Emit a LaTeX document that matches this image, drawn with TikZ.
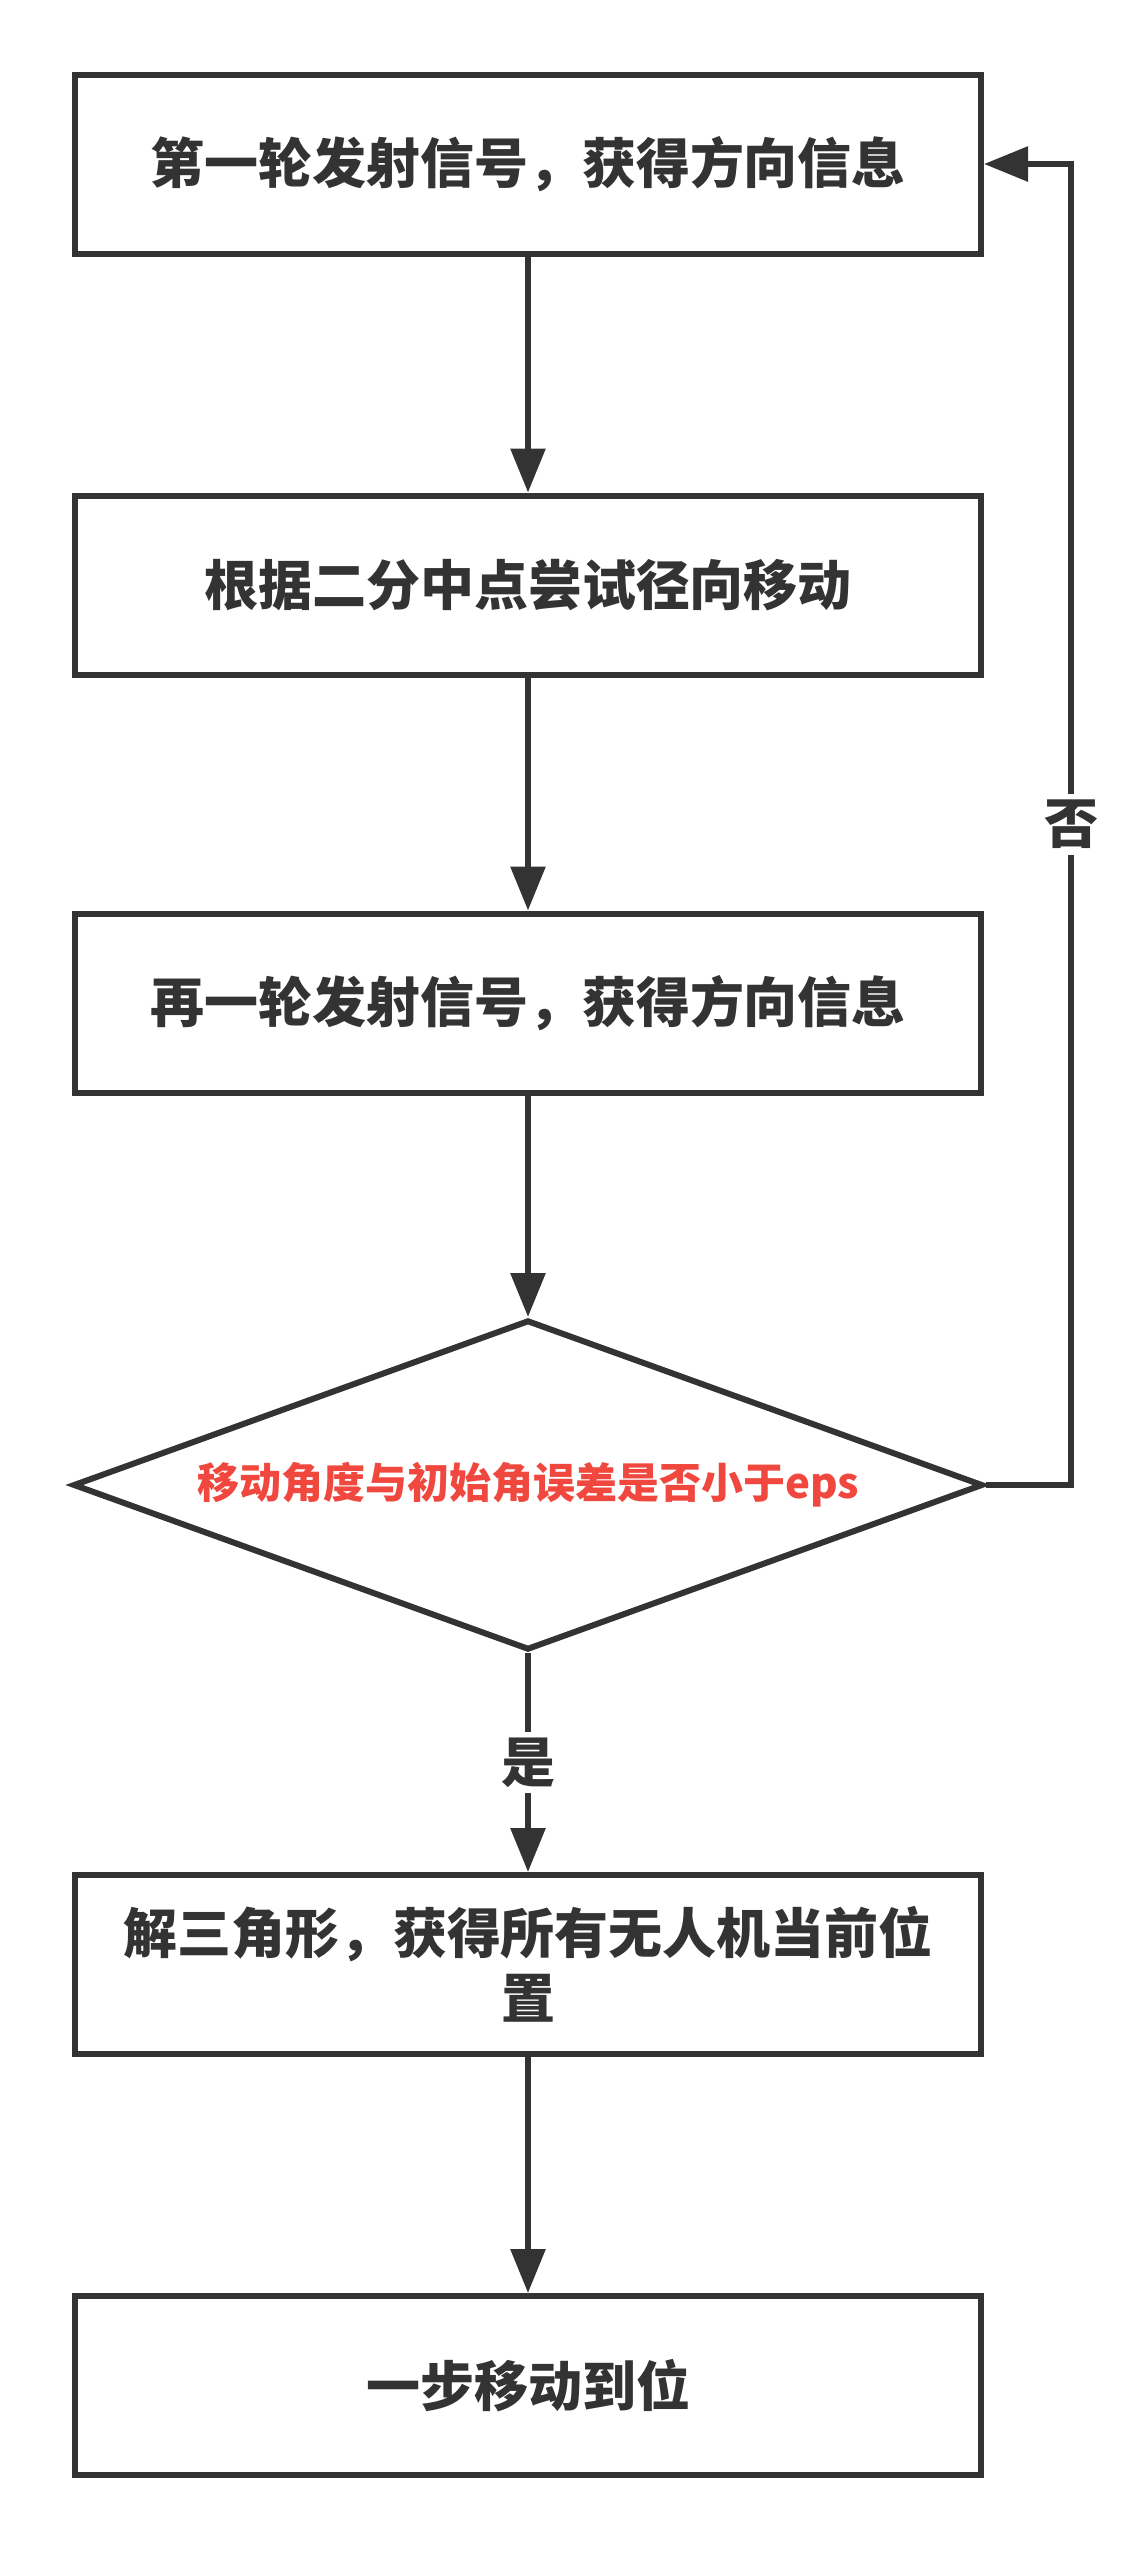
\documentclass[tikz,border=0pt]{standalone}
\usepackage{fontspec}
\setmainfont{Noto Sans CJK SC}
\usetikzlibrary{arrows.meta,shapes.geometric}
\definecolor{ink}{HTML}{333333}
\definecolor{warn}{HTML}{F0483E}
\tikzset{box/.style={draw=ink,line width=3pt,minimum width=453pt,minimum height=89.5pt,inner sep=0pt,align=center,text=ink,font=\bfseries\fontsize{27pt}{32.5pt}\selectfont},
test/.style={draw=ink,line width=3pt,diamond,aspect=2.76,minimum width=455pt,minimum height=165pt,inner sep=0pt,text=warn,font=\bfseries\fontsize{21pt}{25pt}\selectfont},
flow/.style={draw=ink,line width=3pt,-{Triangle[length=22pt,width=17pt]}},
tag/.style={fill=white,text=ink,inner sep=3pt,font=\bfseries\fontsize{27pt}{30pt}\selectfont}}

\begin{document}
\begin{tikzpicture}[x=0.5pt,y=-0.5pt]
	\useasboundingbox (0,0) rectangle (1146,2550);
	\node[box] (start) at (528,164) {第一轮发射信号，获得方向信息};
	\node[box] (move) at (528,585) {根据二分中点尝试径向移动};
	\node[box] (again) at (528,1003) {再一轮发射信号，获得方向信息};
	\node[test] (check) at (528,1485) {移动角度与初始角误差是否小于eps};
	\node[box] (solve) at (528,1964.5) {解三角形，获得所有无人机当前位\\置};
	\node[box] (done) at (528,2385.5) {一步移动到位};
	\coordinate (turn) at (1071,1485);

	\draw[flow] (start) -- (move);
	\draw[flow] (move) -- (again);
	\draw[flow] (again) -- (check);
	\draw[flow] (check) -- node[tag]{是} (solve);
	\draw[flow] (solve) -- (done);
	\draw[flow] (check.east) -- (turn) |- node[tag,pos=0.25]{否} (start.east);
\end{tikzpicture}
\end{document}
